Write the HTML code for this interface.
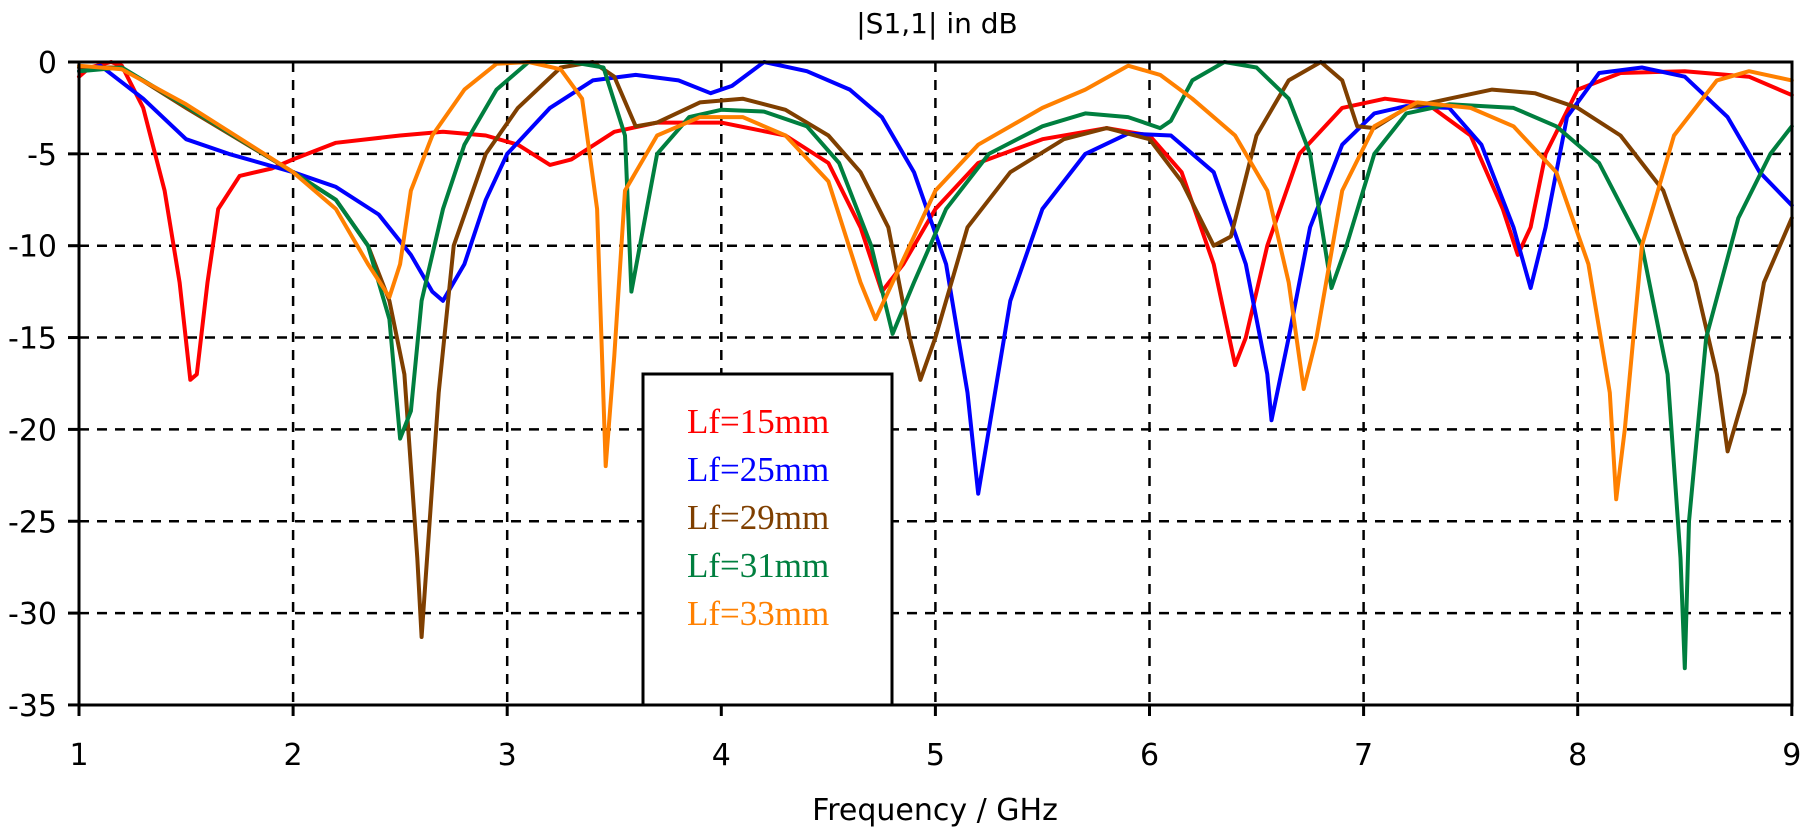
<!DOCTYPE html>
<html><head><meta charset="utf-8"><style>
html,body{margin:0;padding:0;background:#fff;}
svg{display:block;}
</style></head><body>
<svg id="s" width="1806" height="835" xmlns="http://www.w3.org/2000/svg">
<rect width="1806" height="835" fill="#fff"/>
<g id="grid" stroke="#000" stroke-width="2.5" stroke-dasharray="10,8" fill="none"></g>
<g id="curves" fill="none" stroke-width="4" stroke-linejoin="round" stroke-linecap="round"></g>
<rect x="79" y="62" width="1713" height="643" fill="none" stroke="#000" stroke-width="3"/>
<g id="ticks" stroke="#000" stroke-width="3"></g>
<g id="labels" font-family="DejaVu Sans, Liberation Sans, sans-serif" font-size="30" fill="#000"></g>
<text x="937" y="33" text-anchor="middle" font-family="DejaVu Sans, Liberation Sans, sans-serif" font-size="28">|S1,1| in dB</text>
<text x="935" y="820" text-anchor="middle" font-family="DejaVu Sans, Liberation Sans, sans-serif" font-size="30">Frequency / GHz</text>
<rect x="643" y="374" width="249" height="331" fill="#fff" stroke="#000" stroke-width="3"/>
<g font-family="Liberation Serif, serif" font-size="35">
<text x="687" y="433" fill="#ff0000">Lf=15mm</text>
<text x="687" y="481" fill="#0000ff">Lf=25mm</text>
<text x="687" y="529" fill="#7f3f00">Lf=29mm</text>
<text x="687" y="577" fill="#007f3f">Lf=31mm</text>
<text x="687" y="625" fill="#ff8000">Lf=33mm</text>
</g>
</svg>
<script>
var X=f=>79+214.1*(f-1), Y=d=>62-18.37*d;
var NS="http://www.w3.org/2000/svg";
function el(p,t,a){var e=document.createElementNS(NS,t);for(var k in a)e.setAttribute(k,a[k]);if(p)document.getElementById(p).appendChild(e);return e;}
for(var f=2;f<=8;f++)el("grid","line",{x1:X(f),y1:62,x2:X(f),y2:705});
for(var d=-5;d>=-30;d-=5)el("grid","line",{x1:79,y1:Y(d),x2:1792,y2:Y(d)});
for(var f=1;f<=9;f++){el("ticks","line",{x1:X(f),y1:705,x2:X(f),y2:716});var t=el("labels","text",{x:X(f),y:765,"text-anchor":"middle"});t.textContent=f;}
for(var d=0;d>=-35;d-=5){el("ticks","line",{x1:68,y1:Y(d),x2:79,y2:Y(d)});var t=el("labels","text",{x:57,y:Y(d)+11,"text-anchor":"end"});t.textContent=d;}
var S={
"#ff0000":[[1,-0.8],[1.05,-0.3],[1.15,0],[1.2,-0.2],[1.3,-2.5],[1.4,-7],[1.47,-12],[1.52,-17.3],[1.55,-17],[1.6,-12],[1.65,-8],[1.75,-6.2],[1.9,-5.8],[2,-5.3],[2.2,-4.4],[2.5,-4],[2.7,-3.8],[2.9,-4],[3.05,-4.5],[3.2,-5.6],[3.3,-5.3],[3.5,-3.8],[3.7,-3.3],[4,-3.3],[4.3,-4],[4.5,-5.5],[4.65,-9],[4.75,-12.5],[4.85,-11],[5,-8],[5.2,-5.5],[5.5,-4.2],[5.8,-3.6],[6,-4],[6.15,-6],[6.3,-11],[6.4,-16.5],[6.45,-15],[6.55,-10],[6.7,-5],[6.9,-2.5],[7.1,-2.0],[7.3,-2.3],[7.5,-4],[7.65,-8],[7.72,-10.5],[7.78,-9],[7.85,-5],[8,-1.5],[8.2,-0.6],[8.5,-0.5],[8.8,-0.8],[9,-1.8]],
"#0000ff":[[1,-0.5],[1.1,-0.2],[1.3,-2],[1.5,-4.2],[1.7,-5],[2,-6],[2.2,-6.8],[2.4,-8.3],[2.55,-10.5],[2.65,-12.5],[2.7,-13],[2.8,-11],[2.9,-7.5],[3,-5],[3.2,-2.5],[3.4,-1],[3.6,-0.7],[3.8,-1],[3.95,-1.7],[4.05,-1.3],[4.2,0],[4.4,-0.5],[4.6,-1.5],[4.75,-3],[4.9,-6],[5.05,-11],[5.15,-18],[5.2,-23.5],[5.25,-20],[5.35,-13],[5.5,-8],[5.7,-5],[5.9,-3.9],[6.1,-4],[6.3,-6],[6.45,-11],[6.55,-17],[6.57,-19.5],[6.65,-15],[6.75,-9],[6.9,-4.5],[7.05,-2.8],[7.2,-2.4],[7.4,-2.5],[7.55,-4.5],[7.7,-9],[7.78,-12.3],[7.85,-9],[7.95,-3],[8.1,-0.6],[8.3,-0.3],[8.5,-0.8],[8.7,-3],[8.85,-6],[9,-7.8]],
"#7f3f00":[[1,-0.3],[1.2,-0.3],[1.5,-2.5],[2,-6],[2.2,-7.5],[2.35,-10],[2.45,-13],[2.52,-17],[2.58,-27],[2.6,-31.3],[2.62,-28],[2.68,-18],[2.75,-10],[2.9,-5],[3.05,-2.5],[3.25,-0.3],[3.4,0],[3.5,-0.8],[3.6,-3.5],[3.7,-3.3],[3.9,-2.2],[4.1,-2.0],[4.3,-2.6],[4.5,-4],[4.65,-6],[4.78,-9],[4.88,-15],[4.93,-17.3],[5,-15],[5.15,-9],[5.35,-6],[5.6,-4.2],[5.8,-3.6],[6,-4.2],[6.15,-6.5],[6.3,-10],[6.38,-9.5],[6.5,-4],[6.65,-1],[6.8,0],[6.9,-1],[6.97,-3.5],[7.05,-3.6],[7.2,-2.5],[7.4,-2],[7.6,-1.5],[7.8,-1.7],[8,-2.5],[8.2,-4],[8.4,-7],[8.55,-12],[8.65,-17],[8.7,-21.2],[8.78,-18],[8.87,-12],[9,-8.5]],
"#007f3f":[[1,-0.5],[1.2,-0.3],[1.5,-2.4],[2,-6],[2.2,-7.5],[2.35,-10],[2.45,-14],[2.5,-20.5],[2.55,-19],[2.6,-13],[2.7,-8],[2.8,-4.5],[2.95,-1.5],[3.1,0],[3.3,0],[3.45,-0.3],[3.55,-4],[3.58,-12.5],[3.62,-10],[3.7,-5],[3.85,-3],[4,-2.6],[4.2,-2.7],[4.4,-3.5],[4.55,-5.5],[4.7,-10],[4.8,-14.8],[4.9,-12],[5.05,-8],[5.25,-5],[5.5,-3.5],[5.7,-2.8],[5.9,-3],[6.05,-3.6],[6.1,-3.2],[6.2,-1],[6.35,0],[6.5,-0.3],[6.65,-2],[6.75,-5],[6.85,-12.3],[6.92,-10],[7.05,-5],[7.2,-2.8],[7.4,-2.3],[7.7,-2.5],[7.9,-3.5],[8.1,-5.5],[8.3,-10],[8.42,-17],[8.48,-27],[8.5,-33],[8.52,-25],[8.6,-15],[8.75,-8.5],[8.9,-5],[9,-3.5]],
"#ff8000":[[1,-0.2],[1.2,-0.4],[1.5,-2.3],[2,-6],[2.2,-8],[2.35,-11],[2.45,-12.8],[2.5,-11],[2.55,-7],[2.65,-4],[2.8,-1.5],[2.95,-0.1],[3.1,0],[3.25,-0.4],[3.35,-2],[3.42,-8],[3.46,-22],[3.5,-16],[3.55,-7],[3.7,-4],[3.9,-3],[4.1,-3],[4.3,-4],[4.5,-6.5],[4.65,-12],[4.72,-14],[4.8,-12],[5,-7],[5.2,-4.5],[5.5,-2.5],[5.7,-1.5],[5.9,-0.2],[6.05,-0.7],[6.2,-2],[6.4,-4],[6.55,-7],[6.65,-12],[6.72,-17.8],[6.78,-15],[6.9,-7],[7.05,-3.5],[7.25,-2.2],[7.5,-2.5],[7.7,-3.5],[7.9,-6],[8.05,-11],[8.15,-18],[8.18,-23.8],[8.22,-20],[8.3,-10],[8.45,-4],[8.65,-1],[8.8,-0.5],[9,-1]]
};
for(var c in S){el("curves","polyline",{stroke:c,points:S[c].map(p=>X(p[0]).toFixed(1)+","+Y(p[1]).toFixed(1)).join(" ")});}
</script>
</body></html>
